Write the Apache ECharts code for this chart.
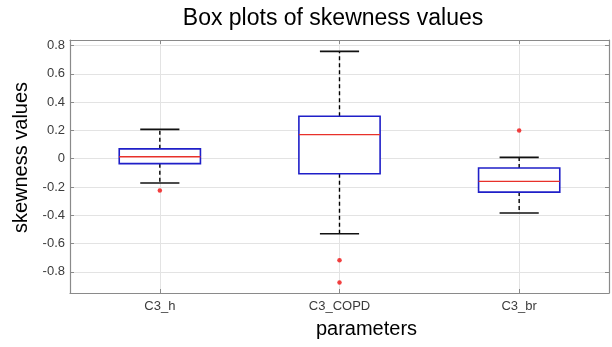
<!DOCTYPE html>
<html>
<head>
<meta charset="utf-8">
<script src="https://cdn.jsdelivr.net/npm/echarts@6/dist/echarts.min.js"></script>
<style>html,body{margin:0;padding:0;background:#fff}#c{width:612px;height:347px}</style>
</head>
<body>
<div id="c"></div>
<script>
var categories = ['C3_h', 'C3_COPD', 'C3_br'];
var lowerWhisker = [-0.172, -0.53, -0.384];
var q1Values = [-0.035, -0.106, -0.236];
var medianValues = [0.014, 0.17, -0.16];
var q3Values = [0.07, 0.30, -0.066];
var upperWhisker = [0.207, 0.76, 0.009];
var outlierCategory = ['C3_h', 'C3_COPD', 'C3_COPD', 'C3_br'];
var outlierValues = [-0.224, -0.718, -0.876, 0.2];
var yTickLabels = ['-0.8', '-0.6', '-0.4', '-0.2', '0', '0.2', '0.4', '0.6', '0.8'];

var boxData = categories.map(function (c, i) {
  return [i + 1, lowerWhisker[i], q1Values[i], medianValues[i], q3Values[i], upperWhisker[i]];
});
var outlierData = outlierValues.map(function (v, i) {
  return [categories.indexOf(outlierCategory[i]) + 1, v];
});

var font = 'Liberation Sans, Arial, sans-serif';
var chart = echarts.init(document.getElementById('c'));

function renderBox(params, api) {
  var x = api.value(0);
  var pMin = api.coord([x, api.value(1)]);
  var pQ1 = api.coord([x, api.value(2)]);
  var pMed = api.coord([x, api.value(3)]);
  var pQ3 = api.coord([x, api.value(4)]);
  var pMax = api.coord([x, api.value(5)]);
  var half = api.size([0.452, 0])[0] / 2;
  var capHalf = api.size([0.218, 0])[0] / 2;
  var cx = pMed[0];
  var dash = { stroke: '#000', lineWidth: 1.4, lineDash: [4, 3] };
  return {
    type: 'group',
    children: [
      { type: 'line', shape: { x1: cx, y1: pQ3[1], x2: cx, y2: pMax[1] }, style: dash },
      { type: 'line', shape: { x1: cx, y1: pQ1[1], x2: cx, y2: pMin[1] }, style: dash },
      { type: 'line', shape: { x1: cx - capHalf, y1: pMax[1], x2: cx + capHalf, y2: pMax[1] }, style: { stroke: '#111', lineWidth: 1.8 } },
      { type: 'line', shape: { x1: cx - capHalf, y1: pMin[1], x2: cx + capHalf, y2: pMin[1] }, style: { stroke: '#111', lineWidth: 1.5 } },
      { type: 'rect', shape: { x: cx - half, y: pQ3[1], width: half * 2, height: pQ1[1] - pQ3[1] }, style: { fill: '#fff', stroke: '#1f1fc8', lineWidth: 1.6 } },
      { type: 'line', shape: { x1: cx - half, y1: pMed[1], x2: cx + half, y2: pMed[1] }, style: { stroke: '#e8312a', lineWidth: 1.3 } }
    ]
  };
}

var axisLineStyle = { color: '#8a8a8a', width: 1.2 };
var option = {
  animation: false,
  title: {
    text: 'Box plots of skewness values',
    left: 328, textAlign: 'center', top: 2,
    textStyle: { fontFamily: font, fontSize: 23, fontWeight: 'normal', color: '#000' }
  },
  grid: { left: 70, right: 3, top: 40, bottom: 54, containLabel: false },
  xAxis: [{
    type: 'value', min: 0.5, max: 3.5, splitNumber: 3, position: 'bottom',
    name: 'parameters', nameLocation: 'middle', nameGap: 26,
    nameTextStyle: { fontFamily: font, fontSize: 20, color: '#000', padding: [0, 0, 0, 54] },
    axisLine: { show: true, onZero: false, lineStyle: axisLineStyle },
    axisTick: { show: true, inside: true, length: 4, lineStyle: { color: '#8a8a8a' } },
    axisLabel: {
      fontFamily: font, fontSize: 13, color: '#3c3c3c', margin: 7,
      showMinLabel: false, showMaxLabel: false,
      formatter: function (v) { return Math.abs(v - Math.round(v)) < 1e-6 ? (categories[Math.round(v) - 1] || '') : ''; }
    },
    splitLine: { show: true, lineStyle: { color: '#e3e3e3', width: 1 } }
  }, {
    type: 'value', min: 0.5, max: 3.5, splitNumber: 3, position: 'top',
    axisLine: { show: true, onZero: false, lineStyle: axisLineStyle },
    axisTick: { show: true, inside: true, length: 4, lineStyle: { color: '#8a8a8a' } },
    axisLabel: { show: false }, splitLine: { show: false }
  }],
  yAxis: [{
    type: 'value', min: -0.95, max: 0.84, splitNumber: 9, position: 'left',
    name: 'skewness values', nameLocation: 'middle', nameGap: 36,
    nameTextStyle: { fontFamily: font, fontSize: 20, color: '#000', padding: [0, 0, 0, 18] },
    axisLine: { show: true, onZero: false, lineStyle: axisLineStyle },
    axisTick: { show: true, inside: true, length: 4, lineStyle: { color: '#8a8a8a' } },
    axisLabel: {
      fontFamily: font, fontSize: 13, color: '#3c3c3c', margin: 5,
      showMinLabel: false, showMaxLabel: false,
      formatter: function (v) {
        var r = Math.round(v * 10) / 10;
        var s = String(r);
        return (Math.abs(v * 5 - Math.round(v * 5)) < 1e-6 && yTickLabels.indexOf(s) >= 0) ? s : '';
      }
    },
    splitLine: { show: true, lineStyle: { color: '#e3e3e3', width: 1 } }
  }, {
    type: 'value', min: -0.95, max: 0.84, splitNumber: 9, position: 'right',
    axisLine: { show: true, onZero: false, lineStyle: axisLineStyle },
    axisTick: { show: true, inside: true, length: 4, lineStyle: { color: '#8a8a8a' } },
    axisLabel: { show: false }, splitLine: { show: false }
  }],
  series: [{
    type: 'custom', xAxisIndex: 0, yAxisIndex: 0,
    renderItem: renderBox,
    encode: { x: 0, y: [1, 2, 3, 4, 5] },
    data: boxData, z: 3
  }, {
    type: 'scatter', xAxisIndex: 0, yAxisIndex: 0,
    symbol: 'circle', symbolSize: 4.5,
    itemStyle: { color: '#f01010' },
    data: outlierData, z: 4
  }]
};
chart.setOption(option);
</script>
</body>
</html>
